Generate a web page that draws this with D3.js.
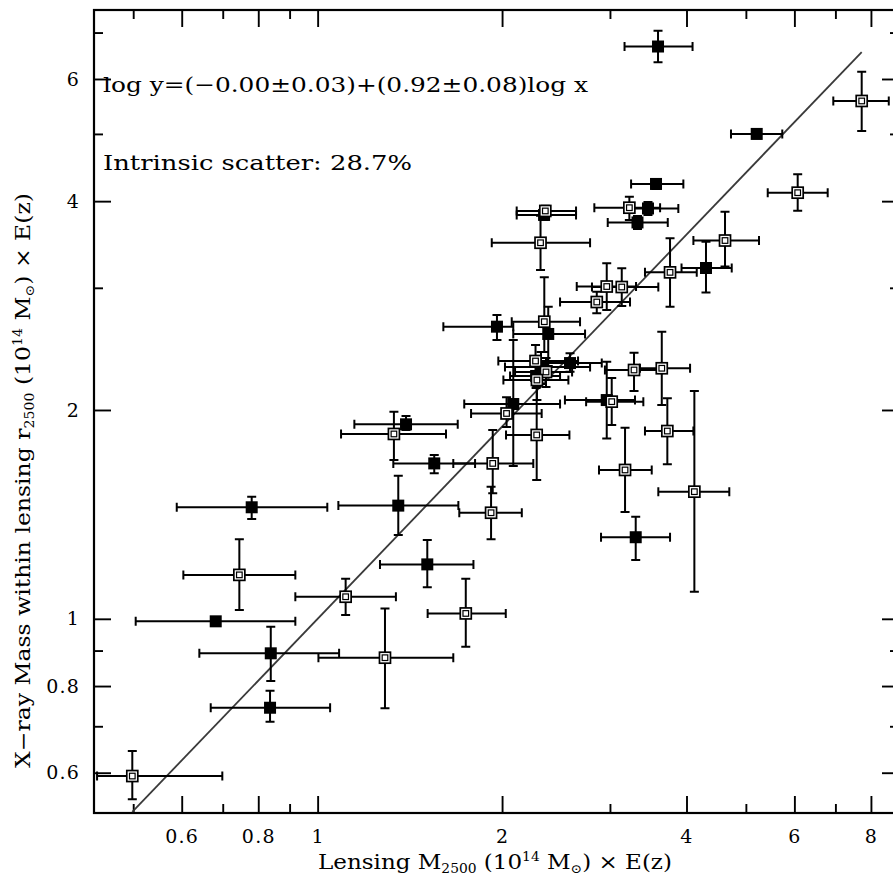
<!DOCTYPE html>
<html>
<head>
<meta charset="utf-8">
<script src="https://cdn.jsdelivr.net/npm/d3@7"></script>
<style>
  body { margin: 0; background: #fff; }
  svg { display: block; }
</style>
</head>
<body>
<svg id="chart" width="893" height="887"></svg>
<script>
// Cluster sample: F = filled symbol, O = open symbol
const sampleType = ["F","O","F","O","F","O","F","F","O","F","O","O","O","O","O","F","O","F","O","F",
                    "F","O","F","O","O","F","F","O","O","F","O","O","O","O","O","O","F",
                    "O","F","F","F","O","F","O","O","F","O","F","F","O","O","O","F"];
// Lensing M2500 x E(z) [1e14 Msun] with lower / upper bounds
const lensMass = [3.594,7.727,5.208,6.075,3.567,3.227,3.461,3.327,4.623,4.304,3.760,2.964,3.136,2.855,2.353,2.342,2.311,1.962,2.344,2.379,
                  2.582,2.268,2.315,2.359,2.280,2.273,2.086,2.034,2.278,2.964,3.020,3.284,3.645,3.722,4.120,3.175,3.305,
                  0.4983,0.8362,0.8385,0.6818,0.7451,0.7805,1.111,1.288,1.510,1.745,1.354,1.550,1.931,1.919,1.332,1.394];
const lensLo   = [3.169,6.945,4.728,5.428,3.248,2.829,3.211,2.975,4.105,3.926,3.422,2.648,2.804,2.487,2.113,2.113,1.924,1.604,2.074,2.086,
                  2.377,1.972,2.022,2.100,2.010,2.061,1.735,1.780,2.030,2.533,2.743,2.944,3.358,3.422,3.598,2.879,2.901,
                  0.4365,0.6691,0.6411,0.5047,0.6037,0.5889,0.9196,1.003,1.264,1.512,1.081,1.329,1.665,1.703,1.092,1.148];
const lensHi   = [4.092,8.555,5.733,6.800,3.953,3.622,3.879,3.728,5.253,4.741,4.157,3.309,3.598,3.235,2.641,2.641,2.784,2.086,2.681,2.732,
                  2.909,2.661,2.784,2.602,2.566,2.487,2.487,2.321,2.576,3.296,3.401,3.645,4.054,4.105,4.698,3.510,3.760,
                  0.6989,1.048,1.084,0.9196,0.9196,1.037,1.342,1.665,1.796,2.028,1.697,1.807,2.249,2.154,1.620,1.693];
// X-ray mass within lensing r2500 x E(z) [1e14 Msun] with lower / upper bounds
const xrayMass = [6.683,5.578,5.000,4.114,4.235,3.914,3.904,3.727,3.510,3.204,3.158,3.013,3.008,2.862,3.872,3.821,3.484,2.637,2.681,2.574,
                  2.337,2.353,2.307,2.269,2.209,2.239,2.040,1.977,1.841,2.067,2.056,2.284,2.297,1.865,1.525,1.639,1.311,
                  0.5934,0.7444,0.8918,0.9917,1.157,1.448,1.076,0.8789,1.198,1.018,1.456,1.675,1.675,1.422,1.847,1.907];
const xrayLo   = [6.343,5.050,4.930,3.876,4.165,3.757,3.821,3.646,3.219,2.954,2.818,2.788,2.824,2.757,3.800,3.760,3.183,2.522,2.424,2.314,
                  2.271,2.209,2.180,2.159,2.067,2.152,1.661,1.890,1.585,1.820,1.903,2.130,2.033,1.670,1.094,1.426,1.216,
                  0.5494,0.7106,0.8136,0.9770,1.030,1.393,1.013,0.7430,1.110,0.9115,1.321,1.621,1.517,1.302,1.694,1.871];
const xrayHi   = [7.043,6.148,5.070,4.373,4.305,4.059,3.990,3.807,3.862,3.496,3.536,3.254,3.201,2.962,3.940,3.880,3.812,2.742,3.107,2.818,
                  2.414,2.481,2.424,2.377,2.345,2.322,2.522,2.087,2.161,2.348,2.224,2.418,2.593,2.079,2.130,1.886,1.403,
                  0.6447,0.7877,0.9740,1.006,1.302,1.500,1.142,1.035,1.299,1.142,1.608,1.722,1.871,1.550,1.989,1.961];

// Best-fit relation: log y = a + b log x
const fitIntercept = 0.00;
const fitSlope = 0.92;

// Axis ranges and ticks
const xDomain = [0.4315, 8.89];
const yDomain = [0.5249, 7.544];
const xMajor = [0.6, 0.8, 1, 2, 4, 6, 8];
const xMajorLabels = ["0.6", "0.8", "1", "2", "4", "6", "8"];
const xMinor = [0.5, 0.7, 0.9, 3, 5, 7];
const yMajor = [0.6, 0.8, 1, 2, 4, 6];
const yMajorLabels = ["0.6", "0.8", "1", "2", "4", "6"];
const yMinor = [0.7, 0.9, 3, 5, 7];

const fitText = "log y=(\u22120.00\u00b10.03)+(0.92\u00b10.08)log x";
const scatterText = "Intrinsic scatter: 28.7%";

// ---------------------------------------------------------------
const svg = d3.select("#chart");
const FONT = "'DejaVu Serif', 'Liberation Serif', serif";
const box = { left: 94, right: 899, top: 10, bottom: 813 };

const x = d3.scaleLog().domain(xDomain).range([box.left, box.right]);
const y = d3.scaleLog().domain(yDomain).range([box.bottom, box.top]);

const points = sampleType.map((t, i) => ({
  type: t,
  x: lensMass[i], x0: lensLo[i], x1: lensHi[i],
  y: xrayMass[i], y0: xrayLo[i], y1: xrayHi[i]
}));

// axes: inward ticks on all four sides
function styleAxis(g) {
  g.select(".domain").remove();
  g.selectAll(".tick line").attr("stroke", "#000").attr("stroke-width", 1.9);
  g.selectAll(".tick text").attr("font-family", FONT).attr("font-size", 19)
    .attr("fill", "#000").attr("letter-spacing", 1.2);
}
const MAJ = 17, MIN = 9;

svg.append("g").attr("transform", `translate(0,${box.bottom})`)
  .call(d3.axisBottom(x).tickValues(xMajor).tickSize(-MAJ).tickSizeOuter(0).tickPadding(17)
    .tickFormat(d => xMajorLabels[xMajor.indexOf(d)]))
  .call(styleAxis);
svg.append("g").attr("transform", `translate(0,${box.bottom})`)
  .call(d3.axisBottom(x).tickValues(xMinor).tickSize(-MIN).tickSizeOuter(0).tickFormat(""))
  .call(styleAxis);
svg.append("g").attr("transform", `translate(0,${box.top})`)
  .call(d3.axisTop(x).tickValues(xMajor).tickSize(-MAJ).tickSizeOuter(0).tickFormat(""))
  .call(styleAxis);
svg.append("g").attr("transform", `translate(0,${box.top})`)
  .call(d3.axisTop(x).tickValues(xMinor).tickSize(-MIN).tickSizeOuter(0).tickFormat(""))
  .call(styleAxis);

svg.append("g").attr("transform", `translate(${box.left},0)`)
  .call(d3.axisLeft(y).tickValues(yMajor).tickSize(-MAJ).tickSizeOuter(0).tickPadding(14)
    .tickFormat(d => yMajorLabels[yMajor.indexOf(d)]))
  .call(styleAxis);
svg.append("g").attr("transform", `translate(${box.left},0)`)
  .call(d3.axisLeft(y).tickValues(yMinor).tickSize(-MIN).tickSizeOuter(0).tickFormat(""))
  .call(styleAxis);
svg.append("g").attr("transform", `translate(${box.right},0)`)
  .call(d3.axisRight(y).tickValues(yMajor).tickSize(-MAJ).tickSizeOuter(0).tickFormat(""))
  .call(styleAxis);
svg.append("g").attr("transform", `translate(${box.right},0)`)
  .call(d3.axisRight(y).tickValues(yMinor).tickSize(-MIN).tickSizeOuter(0).tickFormat(""))
  .call(styleAxis);

svg.append("rect")
  .attr("x", box.left).attr("y", box.top)
  .attr("width", box.right - box.left).attr("height", box.bottom - box.top)
  .attr("fill", "none").attr("stroke", "#000").attr("stroke-width", 2.2);

// best-fit line across the sampled mass range
const xExt = d3.extent(lensMass);
const fitPts = xExt.map(v => [v, Math.pow(10, fitIntercept + fitSlope * Math.log10(v))]);
svg.append("path")
  .attr("d", d3.line().x(d => x(d[0])).y(d => y(d[1]))(fitPts))
  .attr("fill", "none").attr("stroke", "#3a3a3a").attr("stroke-width", 1.8);

// error bars
const CAP = 4.5;
const bars = svg.append("g").attr("stroke", "#000").attr("stroke-width", 2).attr("fill", "none");
points.forEach(p => {
  const cx = x(p.x), cy = y(p.y);
  const xa = x(p.x0), xb = x(p.x1), ya = y(p.y0), yb = y(p.y1);
  bars.append("path").attr("d",
    `M${xa},${cy}H${xb}` +
    `M${xa},${cy - CAP}V${cy + CAP}M${xb},${cy - CAP}V${cy + CAP}` +
    `M${cx},${ya}V${yb}` +
    `M${cx - CAP},${ya}H${cx + CAP}M${cx - CAP},${yb}H${cx + CAP}`);
});

// symbols: filled squares first, open squares on top
const S = 12;
const sym = svg.append("g");
points.filter(p => p.type === "F").forEach(p => {
  const cx = x(p.x), cy = y(p.y);
  sym.append("rect").attr("x", cx - S / 2).attr("y", cy - S / 2).attr("width", S).attr("height", S)
    .attr("fill", "#000");
});
points.filter(p => p.type === "O").forEach(p => {
  const cx = x(p.x), cy = y(p.y);
  sym.append("rect").attr("x", cx - S / 2 + 0.5).attr("y", cy - S / 2 + 0.5).attr("width", S - 1).attr("height", S - 1)
    .attr("fill", "#fff").attr("stroke", "#000").attr("stroke-width", 1.7);
  sym.append("rect").attr("x", cx - 2.8).attr("y", cy - 2.8).attr("width", 5.6).attr("height", 5.6)
    .attr("fill", "none").attr("stroke", "#000").attr("stroke-width", 1.2);
});

// annotations
svg.append("text").attr("x", 103).attr("y", 92)
  .attr("font-family", FONT).attr("font-size", 21)
  .attr("textLength", 485).attr("lengthAdjust", "spacingAndGlyphs")
  .text(fitText);
svg.append("text").attr("x", 103).attr("y", 170)
  .attr("font-family", FONT).attr("font-size", 21)
  .attr("textLength", 309).attr("lengthAdjust", "spacingAndGlyphs")
  .text(scatterText);

// axis titles with sub/superscripts
function titleParts(t, parts) {
  parts.forEach(([s, kind]) => {
    const ts = t.append("tspan").text(s);
    if (kind === "sub") ts.attr("font-size", 12).attr("dy", 4);
    else if (kind === "sup") ts.attr("font-size", 12).attr("dy", -8);
    else if (kind === "fromSub") ts.attr("dy", -4);
    else if (kind === "fromSup") ts.attr("dy", 8);
  });
}
const xTitle = svg.append("text")
  .attr("x", 318).attr("y", 869)
  .attr("font-family", FONT).attr("font-size", 20)
  .attr("textLength", 354).attr("lengthAdjust", "spacingAndGlyphs");
titleParts(xTitle, [["Lensing M"], ["2500", "sub"], [" (10", "fromSub"], ["14", "sup"],
  [" M", "fromSup"], ["\u2299", "sub"], [") \u00d7 E(z)", "fromSub"]]);

const yTitle = svg.append("text")
  .attr("transform", "translate(30,768) rotate(-90)")
  .attr("font-family", FONT).attr("font-size", 20)
  .attr("textLength", 575).attr("lengthAdjust", "spacingAndGlyphs");
titleParts(yTitle, [["X\u2212ray Mass within lensing r"], ["2500", "sub"], [" (10", "fromSub"], ["14", "sup"],
  [" M", "fromSup"], ["\u2299", "sub"], [") \u00d7 E(z)", "fromSub"]]);
</script>
</body>
</html>
